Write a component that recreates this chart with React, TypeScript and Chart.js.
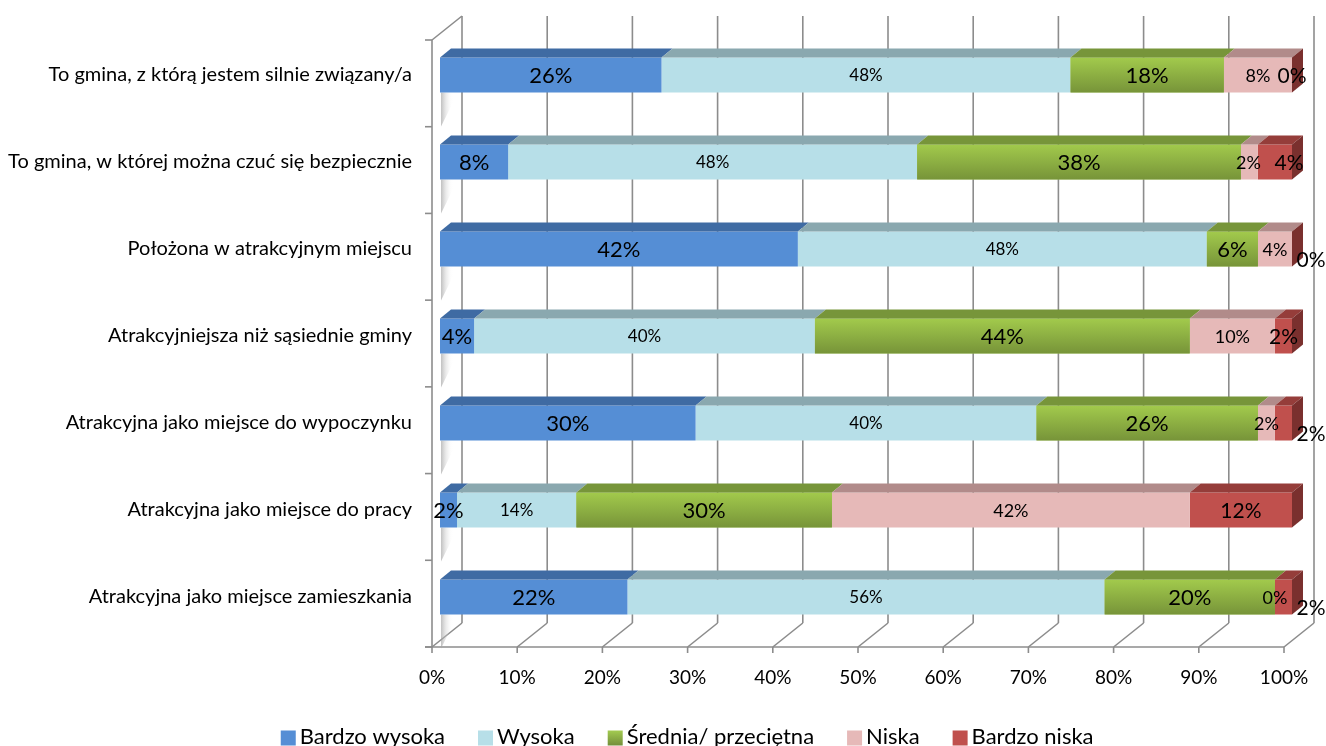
import React, { useEffect, useRef } from "react";
import { Chart, registerables } from "chart.js";

Chart.register(...registerables);

const categories = [
  "To gmina, z którą jestem silnie związany/a",
  "To gmina, w której można czuć się bezpiecznie",
  "Położona w atrakcyjnym miejscu",
  "Atrakcyjniejsza niż sąsiednie gminy",
  "Atrakcyjna jako miejsce do wypoczynku",
  "Atrakcyjna jako miejsce do pracy",
  "Atrakcyjna jako miejsce zamieszkania",
];
const seriesNames = ["Bardzo wysoka", "Wysoka", "Średnia/ przeciętna", "Niska", "Bardzo niska"];
const bardzoWysoka = [26, 8, 42, 4, 30, 2, 22];
const wysoka = [48, 48, 48, 40, 40, 14, 56];
const srednia = [18, 38, 6, 44, 26, 30, 20];
const niska = [8, 2, 4, 10, 2, 42, 0];
const bardzoNiska = [0, 4, 0, 2, 2, 12, 2];
const xTicks = [0, 10, 20, 30, 40, 50, 60, 70, 80, 90, 100];

// styles
const frontColors = ["#558ed5", "#b7dfe8", "#9bbb59", "#e6b9b8", "#c0504d"];
const topColors = ["#3f6ba3", "#8aa8af", "#77953a", "#b18b8a", "#953d3a"];
const sideColor = "#7a302e";
const labelSize = [22, 17, 22, 18, 21];
const outsideLabels = [
  [2, 4],
  [4, 4],
  [6, 4],
];
const shiftedLabels = [
  [1, 4, 14],
  [1, 3, -1],
];
const FONT = "Lato, 'Liberation Sans', sans-serif";
const DX = 11;
const DY = 9;
const GRID = "#8c8c8c";

const plugin3d = {
  id: "excel3d",
  beforeDatasetsDraw(chart: any) {
    const ctx = chart.ctx as CanvasRenderingContext2D;
    const xs = chart.scales.x;
    const ys = chart.scales.y;
    const ca = chart.chartArea;
    const floorY = ca.bottom + 6.5;
    const backY = floorY - 24;
    const topFront = ca.top + 8.5;
    const topBack = topFront - 24;
    const px = (v: number) => xs.getPixelForValue(v);
    ctx.save();
    ctx.strokeStyle = GRID;
    ctx.lineWidth = 1.6;
    // back gridlines
    xTicks.forEach((v) => {
      const x = px(v) + 22;
      ctx.beginPath();
      ctx.moveTo(x, topBack);
      ctx.lineTo(x, backY);
      ctx.stroke();
    });
    // floor diagonals + ticks
    xTicks.forEach((v) => {
      const xf = px(v) - 8;
      ctx.beginPath();
      ctx.moveTo(xf, floorY);
      ctx.lineTo(xf + 30, backY);
      ctx.stroke();
      ctx.beginPath();
      ctx.moveTo(xf, floorY);
      ctx.lineTo(xf, floorY + 6);
      ctx.stroke();
    });
    // floor front line
    ctx.beginPath();
    ctx.moveTo(px(0) - 15, floorY);
    ctx.lineTo(px(100) - 8, floorY);
    ctx.stroke();
    // left wall front edge and top
    const wx = px(0) - 8;
    ctx.beginPath();
    ctx.moveTo(wx, topFront);
    ctx.lineTo(wx, floorY);
    ctx.stroke();
    ctx.beginPath();
    ctx.moveTo(wx, topFront);
    ctx.lineTo(wx + 30, topBack);
    ctx.stroke();
    // left ticks
    const n = categories.length;
    for (let k = 0; k <= n; k++) {
      const y = topFront + ((floorY - topFront) * k) / n;
      ctx.beginPath();
      ctx.moveTo(wx - 7, y);
      ctx.lineTo(wx, y);
      ctx.stroke();
    }
    // wall shading under bars
    const band = (ca.bottom - ca.top) / n;
    const h = band * 0.4;
    for (let r = 0; r < n; r++) {
      const cy = ys.getPixelForValue(r);
      const b = cy + h / 2;
      const g = ctx.createLinearGradient(px(0), 0, px(0) + 13, 0);
      g.addColorStop(0, "rgba(150,150,150,0.7)");
      g.addColorStop(1, "rgba(255,255,255,0)");
      ctx.fillStyle = g;
      ctx.beginPath();
      ctx.moveTo(px(0) + 1, b);
      ctx.lineTo(px(0) + 13, b);
      ctx.lineTo(px(0) + 13, b + 10);
      ctx.lineTo(px(0) + 1, b + 34);
      ctx.closePath();
      ctx.fill();
    }
    // x labels
    ctx.fillStyle = "#000";
    ctx.font = `19px ${FONT}`;
    ctx.textAlign = "center";
    ctx.textBaseline = "middle";
    xTicks.forEach((v) => {
      ctx.fillText(`${v}%`, px(v) - 8, floorY + 31);
    });
    // category labels
    ctx.font = `20px ${FONT}`;
    ctx.textAlign = "right";
    categories.forEach((c, r) => {
      ctx.fillText(c, 412, ys.getPixelForValue(r));
    });
    // legend
    ctx.font = `22px ${FONT}`;
    ctx.textAlign = "left";
    const sq = 15;
    const gapAfterSq = 4;
    const gapItems = 33;
    const widths = seriesNames.map((s) => sq + gapAfterSq + ctx.measureText(s).width);
    let lx = 478 - gapItems - widths[0];
    const ly = 737;
    seriesNames.forEach((s, i) => {
      if (i === 2) {
        const gg = ctx.createLinearGradient(0, ly - sq / 2, 0, ly + sq / 2);
        gg.addColorStop(0, "#a6cf52");
        gg.addColorStop(1, "#76923c");
        ctx.fillStyle = gg;
      } else {
        ctx.fillStyle = frontColors[i];
      }
      ctx.fillRect(lx, ly - sq / 2 + 1, sq, sq);
      ctx.fillStyle = "#000";
      ctx.fillText(s, lx + sq + gapAfterSq, ly);
      lx += widths[i] + gapItems;
    });
    ctx.restore();
  },
  afterDatasetsDraw(chart: any) {
    const ctx = chart.ctx as CanvasRenderingContext2D;
    const nds = chart.data.datasets.length;
    const n = categories.length;
    ctx.save();
    for (let r = 0; r < n; r++) {
      let top = 0;
      let bottom = 0;
      let xEnd = 0;
      const segs: any[] = [];
      for (let d = 0; d < nds; d++) {
        const el = chart.getDatasetMeta(d).data[r];
        const p = el.getProps(["x", "y", "base", "height"], true);
        top = p.y - p.height / 2;
        bottom = p.y + p.height / 2;
        const x1 = Math.min(p.x, p.base);
        const x2 = Math.max(p.x, p.base);
        xEnd = Math.max(xEnd, x2);
        segs.push({ x1, x2, cy: p.y });
        if (d === 2 && x2 > x1) {
          const g = ctx.createLinearGradient(0, top, 0, bottom);
          g.addColorStop(0, "#a2ca4c");
          g.addColorStop(1, "#779439");
          ctx.fillStyle = g;
          ctx.fillRect(x1, top, x2 - x1, bottom - top);
        }
      }
      // top faces
      segs.forEach((s, d) => {
        if (s.x2 - s.x1 <= 0) return;
        ctx.fillStyle = topColors[d];
        ctx.beginPath();
        ctx.moveTo(s.x1, top);
        ctx.lineTo(s.x2, top);
        ctx.lineTo(s.x2 + DX, top - DY);
        ctx.lineTo(s.x1 + DX, top - DY);
        ctx.closePath();
        ctx.fill();
      });
      // side face
      ctx.fillStyle = sideColor;
      ctx.beginPath();
      ctx.moveTo(xEnd, top);
      ctx.lineTo(xEnd + DX, top - DY);
      ctx.lineTo(xEnd + DX, bottom - DY);
      ctx.lineTo(xEnd, bottom);
      ctx.closePath();
      ctx.fill();
      // labels
      ctx.fillStyle = "#000";
      ctx.textAlign = "center";
      ctx.textBaseline = "middle";
      segs.forEach((s, d) => {
        const v = chart.data.datasets[d].data[r];
        ctx.font = `${labelSize[d]}px ${FONT}`;
        const outside = outsideLabels.some((o) => o[0] === r && o[1] === d);
        const shift = shiftedLabels.find((o) => o[0] === r && o[1] === d);
        let x = (s.x1 + s.x2) / 2;
        let y = s.cy;
        if (outside) {
          x = xEnd + 19;
          y = s.cy + 10;
        }
        if (shift) x += shift[2];
        ctx.fillText(`${v}%`, x, y + 1);
      });
    }
    ctx.restore();
  },
};

export default function App() {
  const ref = useRef<HTMLCanvasElement | null>(null);
  useEffect(() => {
    if (!ref.current) return;
    const series = [bardzoWysoka, wysoka, srednia, niska, bardzoNiska];
    const chart = new Chart(ref.current, {
      type: "bar",
      data: {
        labels: categories,
        datasets: series.map((data, i) => ({
          label: seriesNames[i],
          data,
          backgroundColor: frontColors[i],
          borderWidth: 0,
          barPercentage: 0.4,
          categoryPercentage: 1,
        })),
      },
      options: {
        indexAxis: "y",
        responsive: false,
        animation: false,
        devicePixelRatio: 1,
        layout: { padding: { left: 440, right: 34, top: 31.5, bottom: 105.5 } },
        scales: {
          x: { stacked: true, min: 0, max: 100, display: false },
          y: { stacked: true, display: false },
        },
        plugins: { legend: { display: false }, tooltip: { enabled: false } },
      },
      plugins: [plugin3d],
    });
    return () => chart.destroy();
  }, []);
  return (
    <div style={{ position: "fixed", left: 0, top: 0, width: 1326, height: 746, background: "#fff" }}>
      <canvas ref={ref} width={1326} height={746} />
    </div>
  );
}
